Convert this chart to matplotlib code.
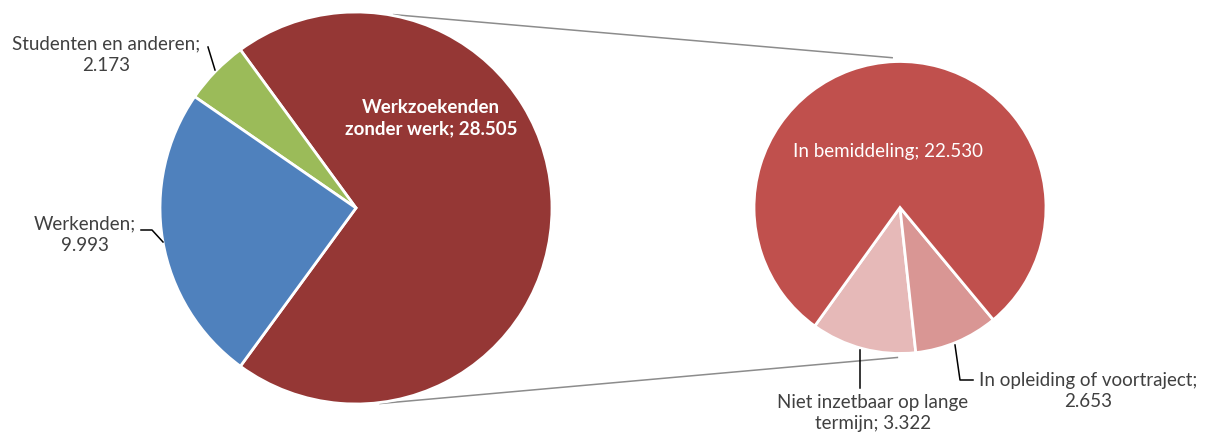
"""Pie-of-pie: werkzoekenden split out into a second pie."""

import numpy as np
import matplotlib
matplotlib.use("Agg")
import matplotlib.pyplot as plt

# main pie (counterclockwise from the right-hand split)
main_labels = ["Werkzoekenden\nzonder werk; 28.505", "Studenten en anderen;\n2.173", "Werkenden;\n9.993"]
main_values = [28505, 2173, 9993]
main_colors = ["#953735", "#9BBB59", "#4F81BD"]

# second pie: breakdown of werkzoekenden
sub_labels = ["Niet inzetbaar op lange\ntermijn; 3.322", "In opleiding of voortraject;\n2.653", "In bemiddeling; 22.530"]
sub_values = [3322, 2653, 22530]
sub_colors = ["#E6B9B8", "#D99694", "#C0504D"]

W, H = 1212, 437
FONT = ["Lato", "DejaVu Sans"]
TXT = "#404040"
FS = 13.5

fig = plt.figure(figsize=(W / 100, H / 100), dpi=100)
ax = fig.add_axes([0, 0, 1, 1])

# pixel-ish layout (y measured from top)
c1, r1 = (356, H - 208), 196
c2, r2 = (900, H - 207.5), 146

frac_main = main_values[0] / sum(main_values)
ax.pie(main_values, colors=main_colors, center=c1, radius=r1,
       startangle=-360 * frac_main / 2, counterclock=True,
       wedgeprops=dict(edgecolor="white", linewidth=2))

frac_small = sum(sub_values[:2]) / sum(sub_values)
ax.pie(sub_values, colors=sub_colors, center=c2, radius=r2,
       startangle=272 - 360 * frac_small / 2, counterclock=True,
       wedgeprops=dict(edgecolor="white", linewidth=2))
ax.set_xlim(0, W)
ax.set_ylim(0, H)
ax.set_aspect("equal")
ax.axis("off")


def on_circle(c, r, ang):
    a = np.deg2rad(ang)
    return c[0] + r * np.cos(a), c[1] + r * np.sin(a)


# connector lines between the two pies
for a1, a2 in [(79, 93), (-83, -91)]:
    p1 = on_circle(c1, r1 + 1, a1)
    p2 = on_circle(c2, r2 + 4, a2)
    ax.plot([p1[0], p2[0]], [p1[1], p2[1]], color="#8C8C8C", lw=1.1, zorder=0)

# labels
ax.text(431, H - 118, main_labels[0], color="white", fontsize=FS, fontweight="bold",
        ha="center", va="center", family=FONT, linespacing=1.35)
ax.text(106, H - 55, main_labels[1], color=TXT, fontsize=FS,
        ha="center", va="center", family=FONT, linespacing=1.35)
ax.text(85, H - 235, main_labels[2], color=TXT, fontsize=FS,
        ha="center", va="center", family=FONT, linespacing=1.35)
ax.text(888, H - 152, sub_labels[2], color="white", fontsize=FS,
        ha="center", va="center", family=FONT)
ax.text(873, H - 413, sub_labels[0], color=TXT, fontsize=FS,
        ha="center", va="center", family=FONT, linespacing=1.35)
ax.text(1088, H - 391, sub_labels[1], color=TXT, fontsize=FS,
        ha="center", va="center", family=FONT, linespacing=1.35)

# leader lines
lk = dict(color="#000000", lw=1.1)
ax.plot([208, 215], [H - 47, H - 70], **lk)
ax.plot([141, 152, 163], [H - 230, H - 230, H - 242], **lk)
ax.plot([860, 860], [H - 350, H - 388], **lk)
ax.plot([955, 960, 973], [H - 345, H - 380, H - 380], **lk)

fig.savefig("out.png", dpi=100)
